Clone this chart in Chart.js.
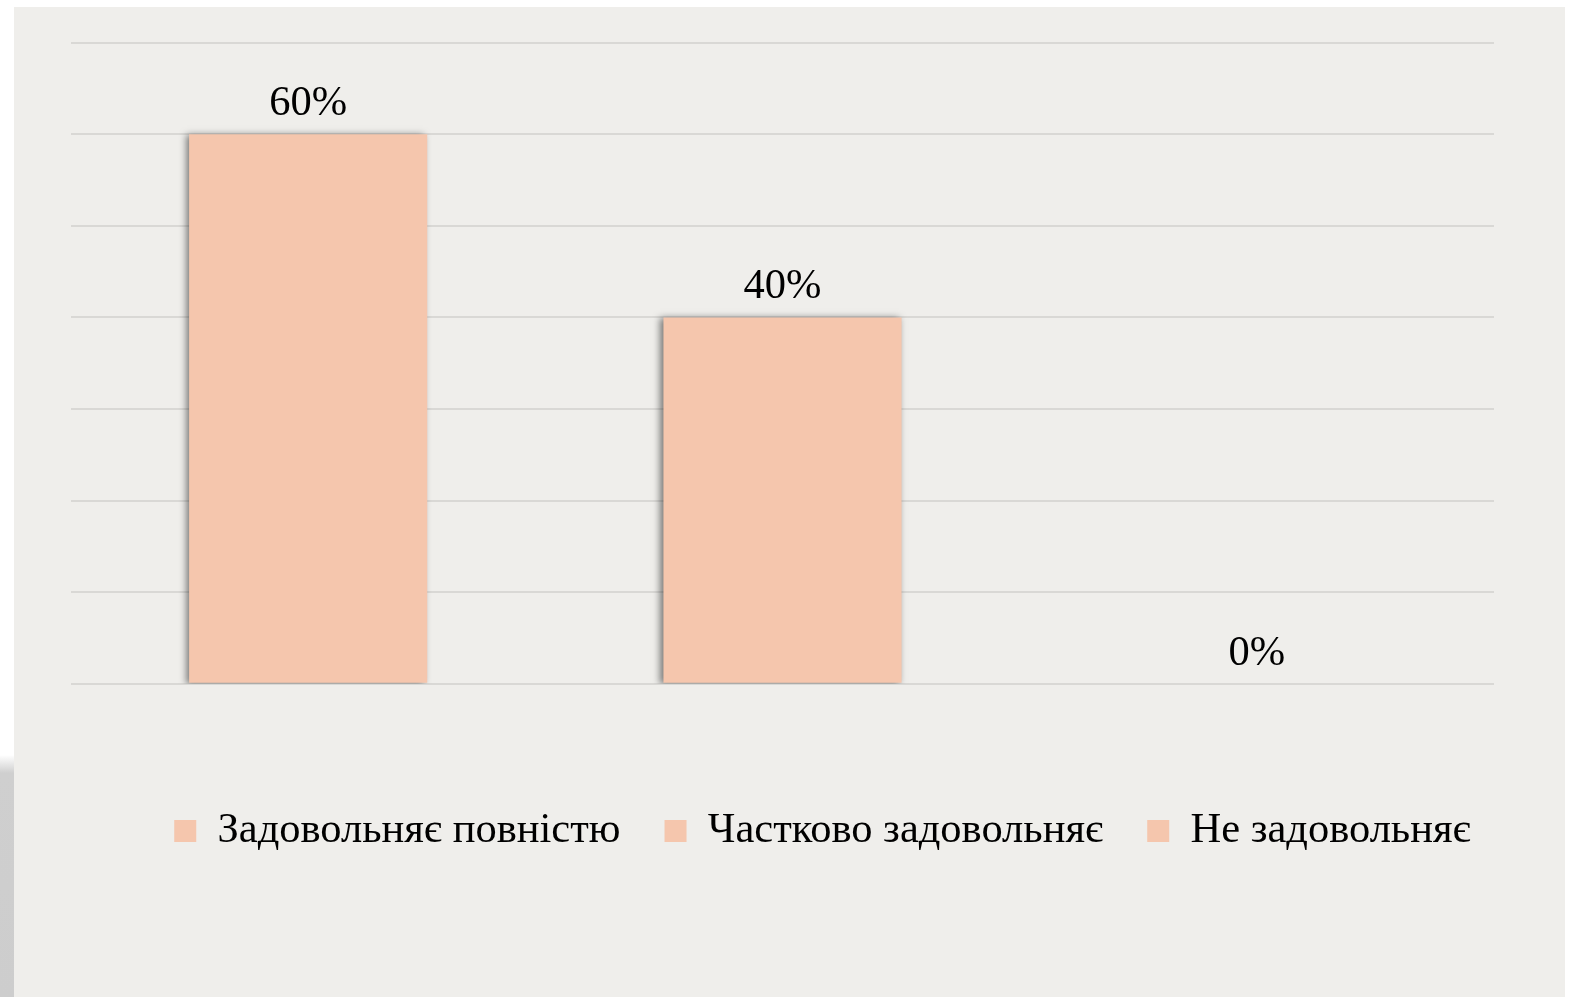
<!DOCTYPE html>
<html>
<head>
<meta charset="utf-8">
<script src="https://cdn.jsdelivr.net/npm/chart.js@4/dist/chart.umd.min.js"></script>
<style>
  html, body { margin:0; padding:0; background:#fff; }
  #wrap { position:relative; width:1578px; height:997px; overflow:hidden; }
  #panel { position:absolute; left:14px; top:7px; width:1551px; height:990px; background:#efeeeb; }
  #edge { position:absolute; left:0; top:755px; width:14px; height:242px;
          background:linear-gradient(to bottom, #ffffff 0px, #cfcfcf 18px, #cdcdcd 100%); }
  #c { position:absolute; left:0; top:0; }
</style>
</head>
<body>
<div id="wrap">
  <div id="edge"></div>
  <div id="panel"></div>
  <canvas id="c" width="1578" height="997"></canvas>
</div>
<script>
const categories = ['Задовольняє повністю', 'Частково задовольняє', 'Не задовольняє'];
const values = [60, 40, 0];
const yTicks = [0, 10, 20, 30, 40, 50, 60, 70];

const barColor = '#f5c6ad';
const serif = "'Liberation Serif', 'Times New Roman', serif";
const fontPx = 42.5;

// value labels over each bar
const valueLabels = {
  id: 'valueLabels',
  afterDatasetsDraw(chart) {
    const ctx = chart.ctx;
    const meta = chart.getDatasetMeta(0);
    ctx.save();
    ctx.font = `${fontPx}px ${serif}`;
    ctx.fillStyle = '#000';
    ctx.textAlign = 'center';
    ctx.textBaseline = 'alphabetic';
    meta.data.forEach((bar, i) => {
      ctx.fillText(values[i] + '%', bar.x, bar.y - 19);
    });
    ctx.restore();
  }
};

// soft shadow on the bars
const barShadow = {
  id: 'barShadow',
  beforeDatasetsDraw(chart) {
    const ctx = chart.ctx;
    ctx.save();
    ctx.shadowColor = 'rgba(0,0,0,0.5)';
    ctx.shadowBlur = 7;
    ctx.shadowOffsetX = -3;
    ctx.shadowOffsetY = 1;
  },
  afterDatasetsDraw(chart) { chart.ctx.restore(); }
};

new Chart(document.getElementById('c'), {
  type: 'bar',
  data: {
    labels: [''],
    datasets: [{ data: values, backgroundColor: barColor, borderWidth: 0 }]
  },
  plugins: [barShadow, valueLabels],
  options: {
    responsive: false,
    animation: false,
    events: [],
    layout: { padding: { left: 71, right: 4, top: 42.7, bottom: 134.75 } },
    datasets: { bar: { categoryPercentage: 1, barPercentage: 0.502 } },
    plugins: {
      tooltip: { enabled: false },
      legend: {
        position: 'bottom',
        labels: {
          boxWidth: 22, boxHeight: 22, padding: 44, color: '#000',
          font: { family: serif, size: fontPx },
          generateLabels: () => categories.map(c => ({
            text: c, fillStyle: barColor, strokeStyle: barColor, lineWidth: 0, hidden: false
          }))
        }
      }
    },
    scales: {
      x: {
        type: 'category',
        labels: categories,
        display: true,
        grid: { display: false },
        border: { display: false },
        ticks: { display: false },
        afterFit(s) { s.height = 82.05; }
      },
      y: {
        position: 'right',
        min: 0, max: 70,
        afterBuildTicks(s) { s.ticks = yTicks.map(v => ({ value: v })); },
        grid: { color: '#d9d8d5', lineWidth: 2, drawTicks: false },
        border: { display: false },
        ticks: { display: false },
        afterFit(s) { s.width = 80; }
      }
    }
  }
});
</script>
</body>
</html>
